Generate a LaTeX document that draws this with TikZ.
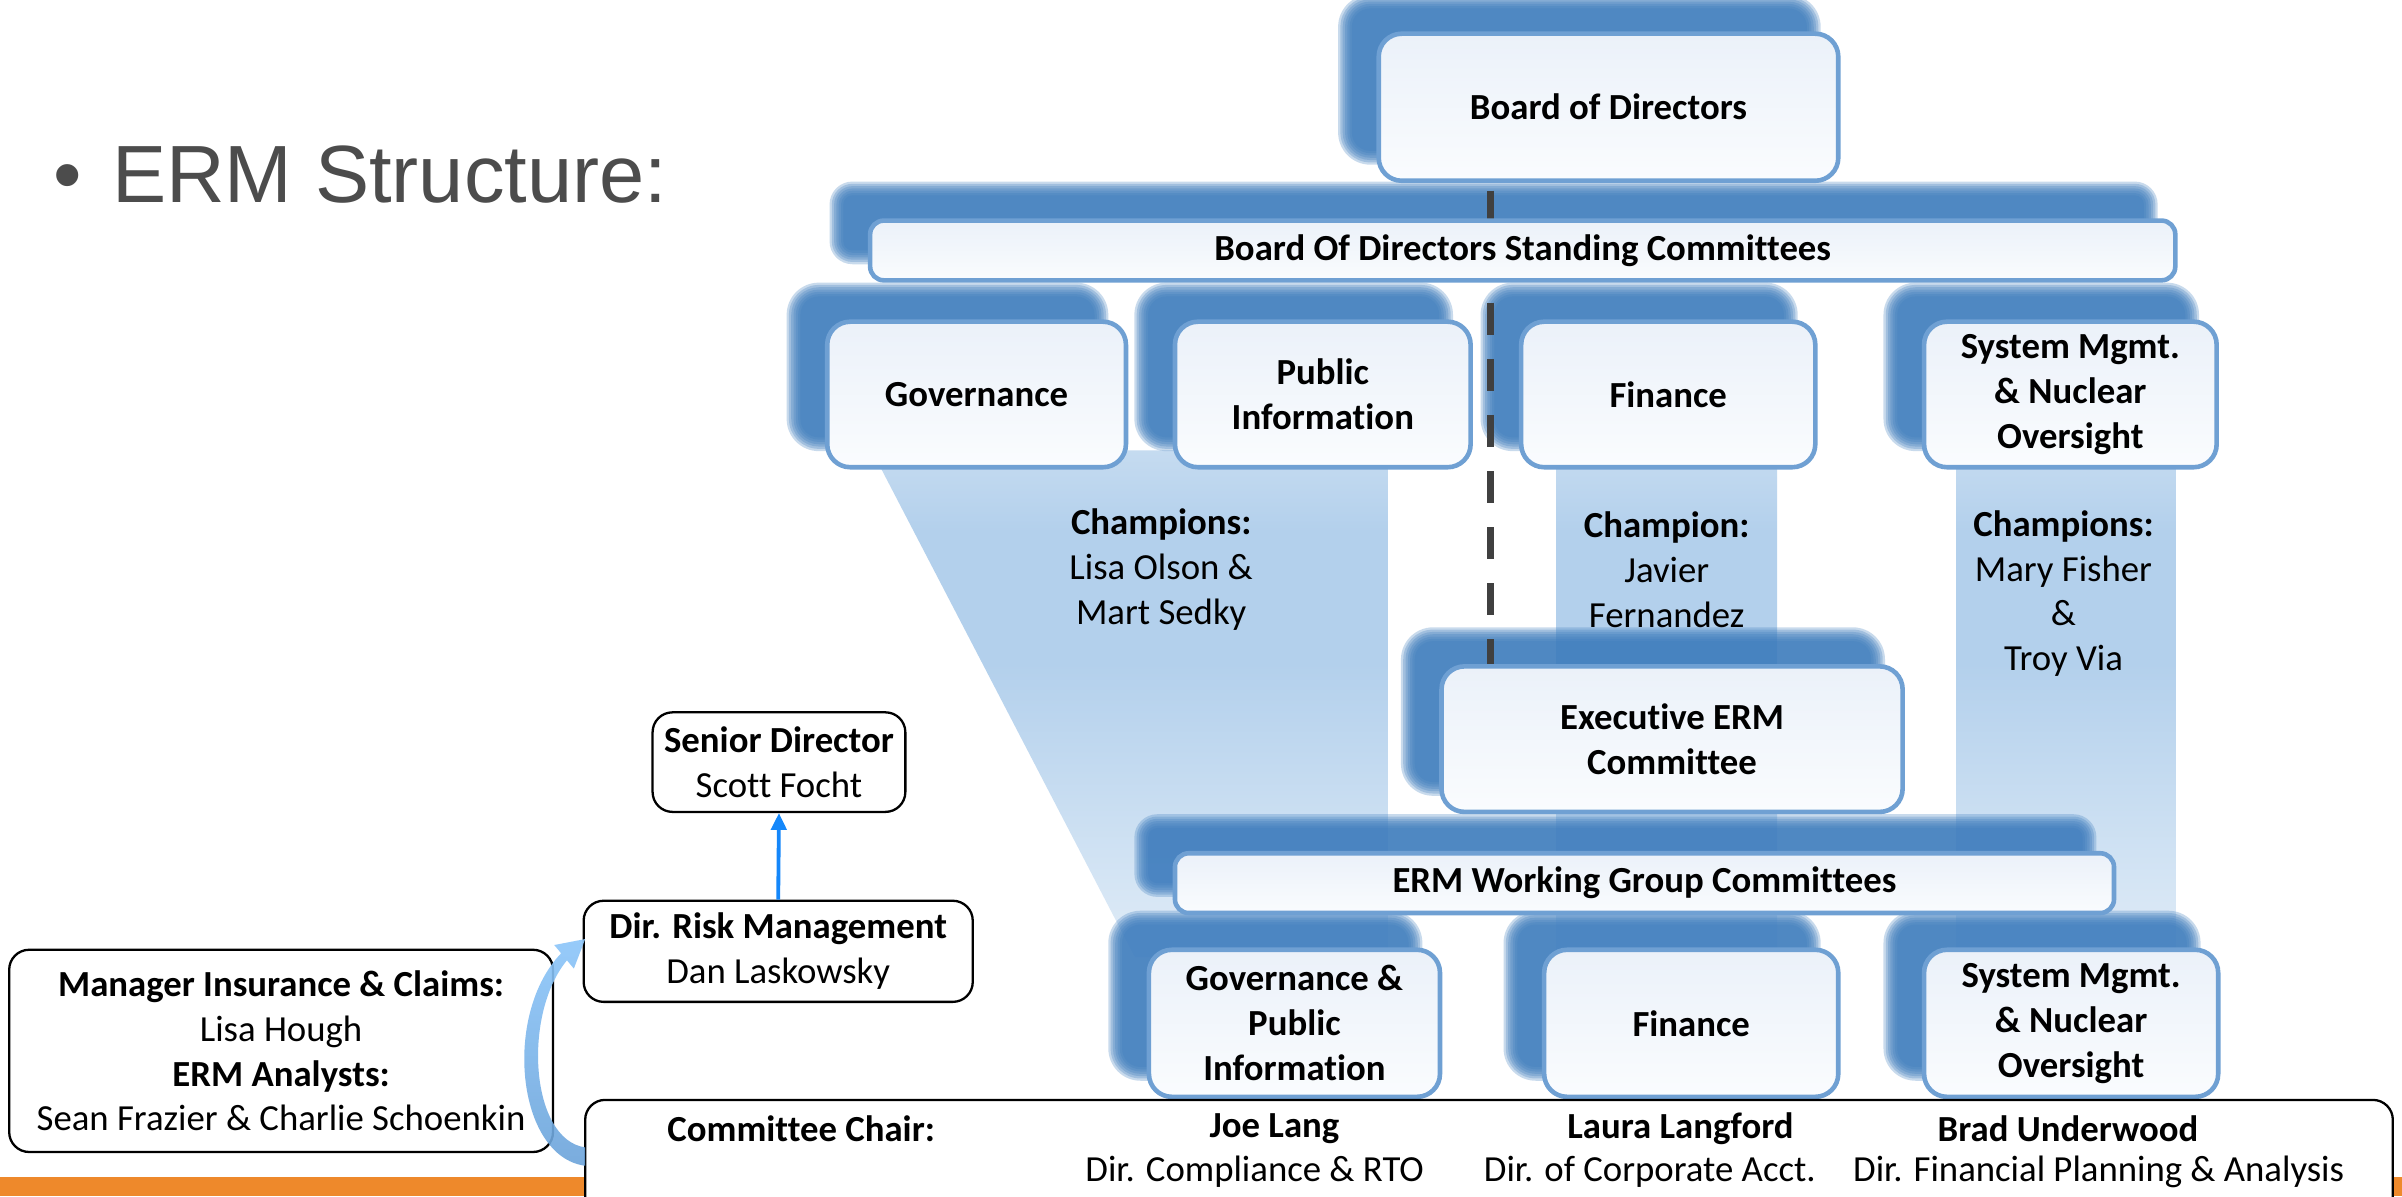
\documentclass[tikz,border=0pt]{standalone}
\usepackage{fontspec}
\setmainfont{Carlito}[Ligatures=NoCommon]
\newfontfamily\titlefont{Liberation Sans}
\usetikzlibrary{arrows.meta,calc}
\definecolor{shcol}{RGB}{61,124,189}
\definecolor{bordcol}{RGB}{111,160,211}
\definecolor{boxtop}{RGB}{235,241,249}
\definecolor{boxbot}{RGB}{250,252,254}
\definecolor{bandtop}{RGB}{197,219,240}
\definecolor{bandmid}{RGB}{179,208,236}
\definecolor{bandbot}{RGB}{224,236,247}
\definecolor{dashcol}{RGB}{64,64,64}
\definecolor{arrowblue}{RGB}{20,135,250}
\definecolor{curvetop}{RGB}{140,198,250}
\definecolor{curvebot}{RGB}{108,164,218}
\definecolor{orangebar}{RGB}{238,137,43}
\definecolor{titlegray}{RGB}{76,76,76}
\pgfdeclarelayer{bandlayer}
\pgfdeclarelayer{shadowlayer}
\pgfdeclarelayer{linelayer}
\pgfsetlayers{bandlayer,shadowlayer,linelayer,main}
\pgfdeclareverticalshading{bandshade}{100bp}{color(0bp)=(bandbot); color(25bp)=(bandbot); color(54bp)=(bandmid); color(67bp)=(bandmid); color(75bp)=(bandtop); color(100bp)=(bandtop)}
\newcommand{\shlayer}[4]{%
  \pgfmathsetmacro{\shxa}{-19-(#2)}%
  \pgfmathsetmacro{\shya}{-18+(#2)}%
  \pgfmathsetmacro{\shxb}{-19+(#2)}%
  \pgfmathsetmacro{\shyb}{-18-(#2)}%
  \fill[shcol,opacity=#3,rounded corners=#4] ($(#1.south west)+(\shxa,\shya)$) rectangle ($(#1.north east)+(\shxb,\shyb)$);}
\newcommand{\nodeshadow}[2]{%
  \begin{pgfonlayer}{shadowlayer}
    \foreach \shexp in {6,4.5,3,1.5,0,-1.5,-3}{\shlayer{#1}{\shexp}{0.28}{#2pt+\shexp pt}}
  \end{pgfonlayer}}
\begin{document}
\begin{tikzpicture}[x=1pt,y=-1pt,
  bluebox/.style={draw=bordcol, line width=3pt, rounded corners=15pt, top color=boxtop, bottom color=boxbot, align=center, inner sep=0pt, font=\fontsize{24}{29.3}\selectfont\bfseries},
  bluebar/.style={bluebox, rounded corners=9pt},
  blackbox/.style={draw=black, line width=1.5pt, rounded corners=13pt, fill=white, align=center, inner sep=0pt, font=\fontsize{24}{29.3}\selectfont},
  txt/.style={inner sep=0pt, align=center, font=\fontsize{24}{29.3}\selectfont},
  btxt/.style={inner sep=0pt, align=center, font=\fontsize{24}{29.3}\selectfont\bfseries},
  dashline/.style={dashcol, line width=5pt, dash pattern=on 21pt off 15.6pt, dash phase=31.6pt},
  upline/.style={arrowblue, line width=2.5pt, -{Triangle[length=11pt,width=10pt]}}]
\useasboundingbox (0,0) rectangle (1568,781);
\begin{pgfonlayer}{bandlayer}
  \fill[white] (0,0) rectangle (1568,781);
  \fill[orangebar] (0,768) rectangle (1568,781);
\end{pgfonlayer}

% title
\node[anchor=base west, inner sep=0pt, text=titlegray, font=\titlefont\fontsize{53}{60}\selectfont] (title) at (34.5,132.5) {\textbullet\hspace{20pt}ERM Structure:};

% blue boxes
\node[bluebox, minimum width=300pt, minimum height=96pt] (board) at (1050,70) {Board of Directors};
\node[bluebar, minimum width=852pt, minimum height=39pt] (stand) at (994,163.5) {Board Of Directors Standing Committees};
\node[bluebox, minimum width=195pt, minimum height=95pt] (gov) at (637.5,257.5) {Governance};
\node[bluebox, minimum width=193pt, minimum height=95pt] (pub) at (863.5,257.5) {Public\\Information};
\node[bluebox, minimum width=192pt, minimum height=95pt] (fin) at (1089,257.5) {Finance};
\node[bluebox, minimum width=191pt, minimum height=95pt] (sys) at (1351.5,257.5) {System Mgmt.\\\& Nuclear\\Oversight};
\node[bluebox, minimum width=301pt, minimum height=95pt] (exec) at (1091.5,482.5) {Executive ERM\\Committee};
\node[bluebar, minimum width=613pt, minimum height=39pt] (wg) at (1073.5,576.5) {ERM Working Group Committees};
\node[bluebox, minimum width=190pt, minimum height=96pt] (lgov) at (845,668) {Governance \&\\Public\\Information};
\node[bluebox, minimum width=192pt, minimum height=96pt] (lfin) at (1104,668) {Finance};
\node[bluebox, minimum width=192pt, minimum height=96pt] (lsys) at (1352,668) {System Mgmt.\\\& Nuclear\\Oversight};

\nodeshadow{board}{15}
\nodeshadow{stand}{9}
\nodeshadow{gov}{15}
\nodeshadow{pub}{15}
\nodeshadow{fin}{15}
\nodeshadow{sys}{15}
\nodeshadow{exec}{15}
\nodeshadow{wg}{9}
\nodeshadow{lgov}{15}
\nodeshadow{lfin}{15}
\nodeshadow{lsys}{15}

% champion bands and dashed connector
\coordinate (dashx) at (973,0);
\begin{pgfonlayer}{bandlayer}
  \shade[shading=bandshade] (569,294) -- (906,294) -- (906,625) -- (741,625) -- cycle;
  \shade[shading=bandshade] (1016,294) rectangle (1160,625);
  \shade[shading=bandshade] (1277,294) rectangle (1420,625);
\end{pgfonlayer}
\begin{pgfonlayer}{linelayer}
  \draw[dashline] (board.south -| dashx) -- (exec.north -| dashx);
\end{pgfonlayer}

% champions
\node[txt] (champL) at (758,372) {\textbf{Champions:}\\Lisa Olson \&\\Mart Sedky};
\node[txt] (champF) at (1088,372) {\textbf{Champion:}\\Javier\\Fernandez};
\node[txt] (champS) at (1347,387.5) {\textbf{Champions:}\\Mary Fisher\\\&\\Troy Via};

% left boxes
\node[blackbox, minimum width=165pt, minimum height=65pt] (senior) at (508.5,497.5) {\textbf{Senior Director}\\Scott Focht};
\node[blackbox, minimum width=254pt, minimum height=66pt] (dirrisk) at (508,621) {\textbf{Dir. Risk Management}\\Dan Laskowsky};
\node[blackbox, minimum width=355pt, minimum height=132pt] (manager) at (183.5,686) {\textbf{Manager Insurance \& Claims:}\\Lisa Hough\\\textbf{ERM Analysts:}\\Sean Frazier \& Charlie Schoenkin};
\node[blackbox, minimum width=1180pt, minimum height=82pt] (chair) at (972,759) {};

\draw[upline] (dirrisk.north) -- (senior.south);

% curved arrow from chair box to Dir. Risk Management
\shade[top color=curvetop, bottom color=curvebot, opacity=0.9]
  (382,761) .. controls (337,755) and (328,662) .. (366.3,622.3) -- (361.8,616.9) -- (382,613)
  -- (374.6,632.3) -- (370.1,626.9) .. controls (341,662) and (346,744) .. (382,749) -- cycle;

% committee chair labels
\node[btxt] (cc) at (523,737) {Committee Chair:};
\node[btxt] (jl) at (832,737) {Joe Lang};
\node[txt] (jld) at (819,765) {Dir. Compliance \& RTO};
\node[btxt] (ll) at (1097,737) {Laura Langford};
\node[txt] (lld) at (1077,765) {Dir. of Corporate Acct.};
\node[btxt] (bu) at (1350,737) {Brad Underwood};
\node[txt] (bud) at (1370,765) {Dir. Financial Planning \& Analysis};
\end{tikzpicture}
\end{document}
